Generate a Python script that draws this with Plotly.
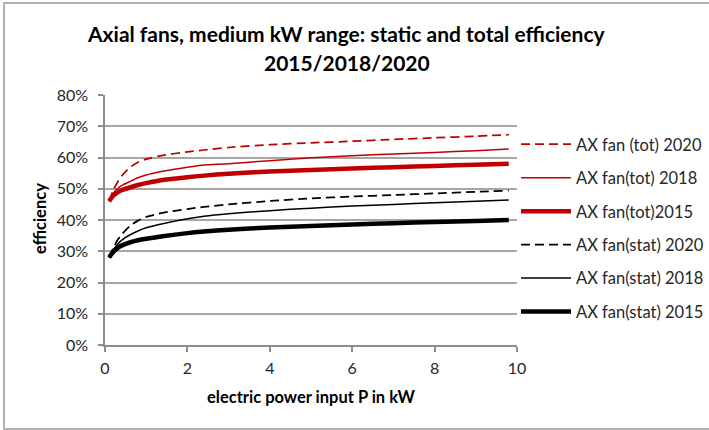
import plotly.graph_objects as go

# electric power input P in kW
power_kw = [0.1, 0.2, 0.3, 0.4, 0.6, 0.8, 1.0, 1.4, 2.0, 2.4, 3.0, 4.0, 5.0, 6.0, 7.0, 8.0, 9.0, 9.8]

# efficiencies in %
tot_2020 = [46.0, 49.5, 52.0, 54.0, 56.8, 58.5, 59.5, 60.7, 61.8, 62.4, 63.2, 64.1, 64.7, 65.2, 65.8, 66.3, 66.8, 67.3]
tot_2018 = [46.0, 48.5, 50.0, 51.0, 52.3, 53.5, 54.4, 55.6, 56.9, 57.6, 58.0, 59.0, 59.9, 60.6, 61.1, 61.6, 62.2, 62.7]
tot_2015 = [46.0, 47.8, 48.8, 49.5, 50.4, 51.2, 51.8, 52.8, 53.7, 54.2, 54.8, 55.5, 56.0, 56.5, 56.9, 57.3, 57.7, 58.0]
stat_2020 = [28.0, 31.0, 33.5, 35.3, 38.0, 39.8, 41.0, 42.3, 43.5, 44.2, 45.0, 46.1, 46.9, 47.5, 48.0, 48.5, 49.0, 49.4]
stat_2018 = [28.0, 30.5, 32.2, 33.5, 35.2, 36.5, 37.5, 38.8, 40.4, 41.2, 42.0, 43.0, 43.8, 44.5, 45.0, 45.5, 46.0, 46.4]
stat_2015 = [28.0, 29.8, 31.0, 31.8, 32.8, 33.5, 34.0, 34.8, 35.8, 36.3, 36.9, 37.6, 38.1, 38.6, 39.0, 39.4, 39.7, 40.0]

series_names = ["AX fan (tot) 2020", "AX fan(tot) 2018", "AX fan(tot)2015",
                "AX fan(stat) 2020", "AX fan(stat) 2018", "AX fan(stat) 2015"]
series_values = [tot_2020, tot_2018, tot_2015, stat_2020, stat_2018, stat_2015]

y_ticks = [0, 10, 20, 30, 40, 50, 60, 70, 80]
y_tick_labels = ["0%", "10%", "20%", "30%", "40%", "50%", "60%", "70%", "80%"]
x_ticks = [0, 2, 4, 6, 8, 10]

RED = "#C00000"
BLACK = "#000000"
styles = [
    dict(color=RED, width=1.75, dash="9px,5px"),
    dict(color=RED, width=1.5, dash="solid"),
    dict(color=RED, width=4.5, dash="solid"),
    dict(color=BLACK, width=1.75, dash="9px,5px"),
    dict(color=BLACK, width=1.5, dash="solid"),
    dict(color=BLACK, width=4.5, dash="solid"),
]

FONT = "Lato, Carlito, 'Open Sans', sans-serif"

fig = go.Figure()
for i, (name, vals, st) in enumerate(zip(series_names, series_values, styles)):
    fig.add_trace(go.Scatter(
        x=power_kw, y=vals, name=name, mode="lines",
        line=dict(color=st["color"], width=st["width"], dash=st["dash"], shape="spline", smoothing=0.6),
        legendgroup=f"g{i}",
    ))

L, R, T, B = 105, 192, 95, 85
W, H = 709, 430
pw, ph = W - L - R, H - T - B

def px(xp):
    return (xp - L) / pw

def py(yp):
    return (H - B - yp) / ph

fig.update_layout(
    width=W, height=H,
    margin=dict(l=L, r=R, t=T, b=B, pad=0, autoexpand=False),
    paper_bgcolor="white", plot_bgcolor="white",
    font=dict(family=FONT, size=16, color="#262626"),
    showlegend=True,
    legend=dict(
        x=px(516), y=py(127), xanchor="left", yanchor="top",
        font=dict(family=FONT, size=16.5, color="#262626"),
        tracegroupgap=9, itemwidth=50, bgcolor="rgba(0,0,0,0)",
    ),
    xaxis=dict(
        range=[0, 10], tickvals=x_ticks, showgrid=False, zeroline=False,
        showline=True, linecolor="#8c8c8c", linewidth=1.5,
        ticks="outside", ticklen=5, tickcolor="#8c8c8c", tickwidth=1.5,
        ticklabelstandoff=3,
        tickfont=dict(family=FONT, size=16, color="#262626"),
        title=dict(text="<b>electric power input P in kW</b>", font=dict(family=FONT, size=16.5, color="#000000"), standoff=15),
    ),
    yaxis=dict(
        range=[0, 80], tickvals=y_ticks, ticktext=y_tick_labels, showgrid=True, gridcolor="#a6a6a6", gridwidth=1.5,
        zeroline=False, showline=True, linecolor="#8c8c8c", linewidth=1.5,
        ticks="outside", ticklen=5, tickcolor="#8c8c8c", tickwidth=1.5,
        ticklabelstandoff=7,
        tickfont=dict(family=FONT, size=16, color="#262626"),
    ),
    annotations=[
        dict(text="<b>Axial fans, medium kW range: static and total efficiency</b>", x=px(346), y=py(33),
             xref="paper", yref="paper", showarrow=False, xanchor="center", yanchor="middle",
             font=dict(family=FONT, size=21, color="#000000")),
        dict(text="<b>2015/2018/2020</b>", x=px(347), y=py(62),
             xref="paper", yref="paper", showarrow=False, xanchor="center", yanchor="middle",
             font=dict(family=FONT, size=21, color="#000000")),
        dict(text="<b>efficiency</b>", x=px(40), y=py(219), textangle=-90,
             xref="paper", yref="paper", showarrow=False, xanchor="center", yanchor="middle",
             font=dict(family=FONT, size=16.5, color="#000000")),
    ],
    shapes=[
        dict(type="rect", xref="paper", yref="paper", x0=px(4), x1=px(715), y0=py(429), y1=py(3),
             line=dict(color="#999999", width=1.5), fillcolor="rgba(0,0,0,0)", layer="below"),
    ],
)

fig.write_html("out.html", config={"displayModeBar": False},
               post_script="document.body.style.margin='0';")
